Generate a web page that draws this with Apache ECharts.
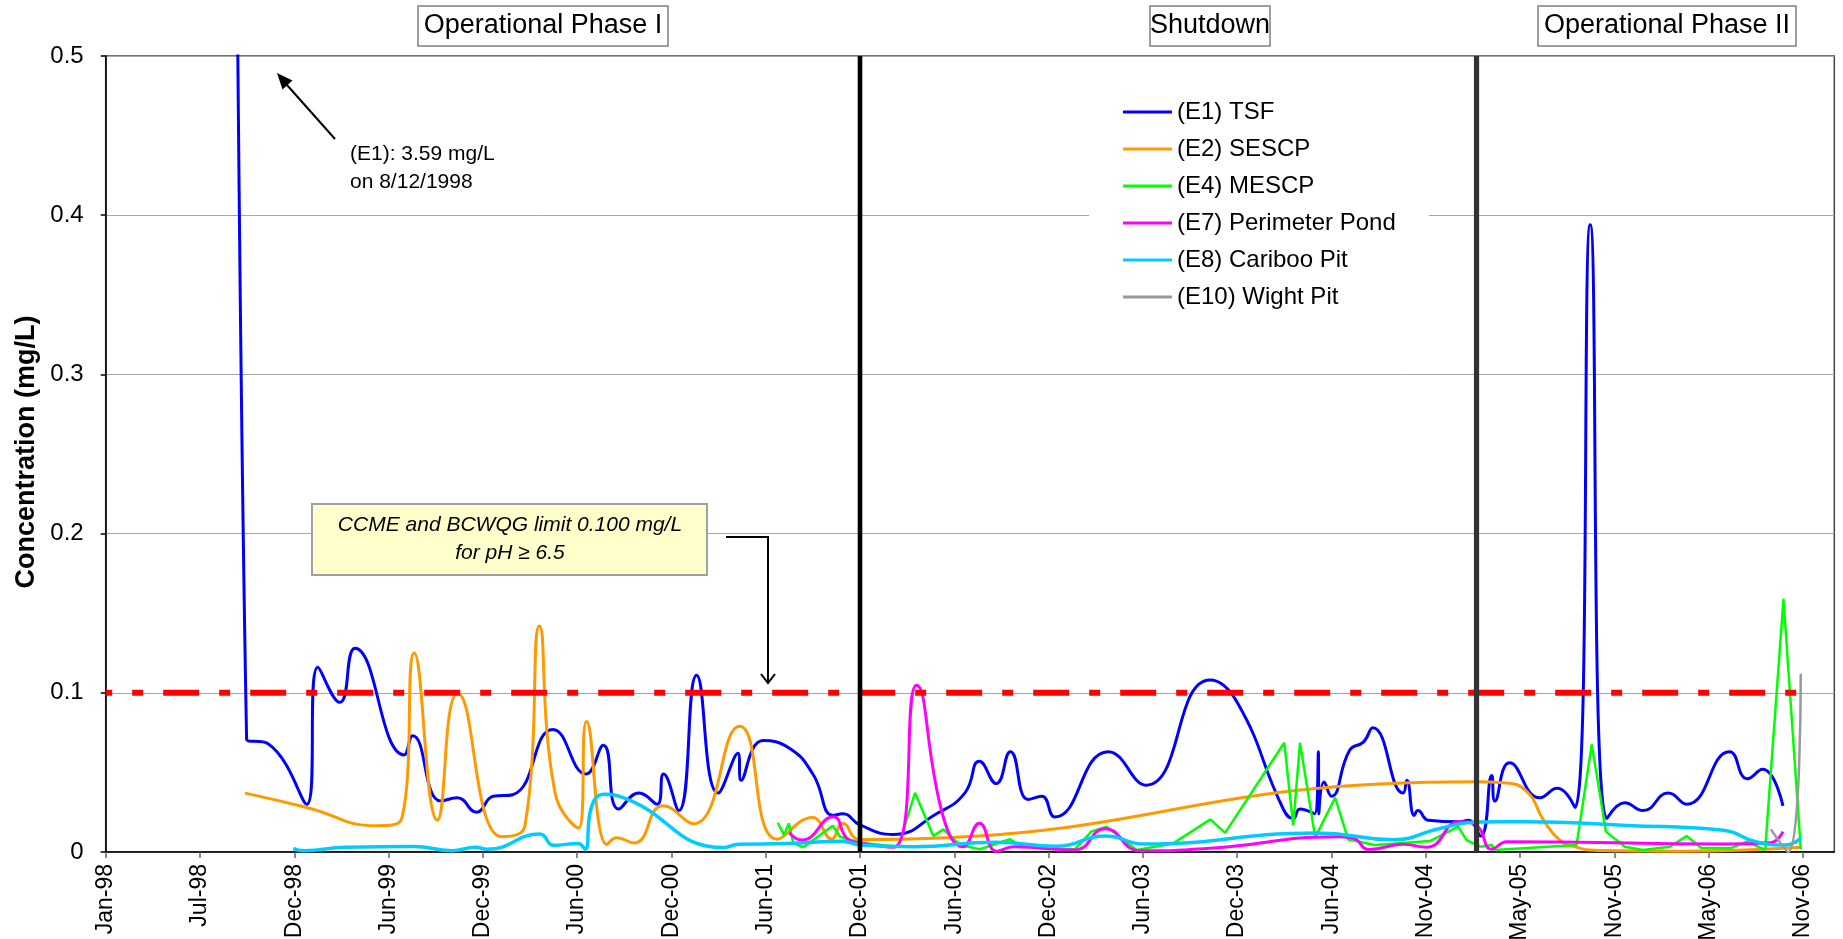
<!DOCTYPE html>
<html>
<head>
<meta charset="utf-8">
<title>Concentration (mg/L)</title>
<script src="https://cdn.jsdelivr.net/npm/echarts@6/dist/echarts.min.js"></script>
<style>
  html, body { margin: 0; padding: 0; background: #fff; }
  #chart { width: 1843px; height: 939px; }
</style>
</head>
<body>
<div id="chart"></div>
<script>
const FONT = "'Liberation Sans', Arial, sans-serif";

// date axis like the Excel one: a tick every 180 days from 4 Jan 1998
const axisStart = "1998-01-04";
const tickStep = 180;
const axisEndDays = 3300;
const xTickLabels = ["Jan-98", "Jul-98", "Dec-98", "Jun-99", "Dec-99", "Jun-00", "Dec-00", "Jun-01", "Dec-01",
  "Jun-02", "Dec-02", "Jun-03", "Dec-03", "Jun-04", "Nov-04", "May-05", "Nov-05", "May-06", "Nov-06"];

const seriesNames = ["(E1) TSF", "(E2) SESCP", "(E4) MESCP", "(E7) Perimeter Pond", "(E8) Cariboo Pit", "(E10) Wight Pit"];
const seriesColors = ["#0000ff", "#ff9900", "#00ff00", "#ff00ff", "#00ccff", "#999999"];

const tsf = [
  ["1998-08-12", 3.59], ["1998-09-30", 0.071], ["1998-11-10", 0.068], ["1999-01-23", 0.030], ["1999-02-13", 0.116],
  ["1999-03-27", 0.094], ["1999-04-25", 0.128], ["1999-07-28", 0.061], ["1999-08-13", 0.073], ["1999-10-06", 0.032],
  ["1999-11-06", 0.034], ["1999-12-13", 0.025], ["2000-01-14", 0.035], ["2000-02-20", 0.036], ["2000-05-07", 0.077],
  ["2000-07-09", 0.049], ["2000-08-11", 0.067], ["2000-09-09", 0.027], ["2000-10-18", 0.037], ["2000-11-22", 0.030],
  ["2000-12-04", 0.049], ["2001-01-02", 0.026], ["2001-02-05", 0.111], ["2001-03-18", 0.037], ["2001-04-25", 0.062],
  ["2001-05-01", 0.045], ["2001-06-12", 0.070], ["2001-08-02", 0.065], ["2001-09-15", 0.049], ["2001-10-24", 0.023],
  ["2001-11-11", 0.024], ["2001-12-14", 0.017], ["2002-02-15", 0.011], ["2002-05-09", 0.024], ["2002-07-02", 0.037],
  ["2002-07-30", 0.057], ["2002-08-31", 0.043], ["2002-09-27", 0.063], ["2002-10-31", 0.033], ["2002-11-26", 0.035],
  ["2002-12-21", 0.022], ["2003-04-02", 0.063], ["2003-06-13", 0.042], ["2003-10-13", 0.108], ["2003-12-04", 0.094],
  ["2004-03-01", 0.027], ["2004-03-20", 0.021], ["2004-04-02", 0.027], ["2004-04-30", 0.024], ["2004-05-07", 0.063],
  ["2004-05-08", 0.024], ["2004-05-18", 0.044], ["2004-06-01", 0.035], ["2004-07-06", 0.064], ["2004-08-01", 0.069],
  ["2004-08-19", 0.078], ["2004-10-16", 0.037], ["2004-10-23", 0.045], ["2004-11-06", 0.023], ["2004-11-13", 0.026],
  ["2004-12-03", 0.020], ["2005-02-01", 0.019], ["2005-02-17", 0.020], ["2005-03-13", 0.010], ["2005-04-03", 0.048],
  ["2005-04-09", 0.032], ["2005-05-07", 0.056], ["2005-07-04", 0.034], ["2005-08-06", 0.040], ["2005-09-09", 0.028],
  ["2005-10-08", 0.394], ["2005-11-09", 0.021], ["2005-12-13", 0.031], ["2006-01-17", 0.026], ["2006-03-06", 0.037],
  ["2006-04-10", 0.030], ["2006-07-01", 0.063], ["2006-08-04", 0.046], ["2006-09-02", 0.052], ["2006-10-11", 0.029]
];

const sescp = [
  ["1998-09-27", 0.037], ["1999-01-23", 0.028], ["1999-06-05", 0.0165], ["1999-07-23", 0.021], ["1999-08-16", 0.125],
  ["1999-09-29", 0.020], ["1999-11-07", 0.0996], ["2000-01-30", 0.0096], ["2000-03-14", 0.016], ["2000-04-11", 0.142],
  ["2000-05-11", 0.037], ["2000-06-25", 0.015], ["2000-07-10", 0.082], ["2000-08-18", 0.0047], ["2000-09-05", 0.009],
  ["2000-10-09", 0.0057], ["2000-12-03", 0.029], ["2001-01-30", 0.0177], ["2001-04-28", 0.079], ["2001-07-09", 0.008],
  ["2001-09-14", 0.0217], ["2001-10-21", 0.0083], ["2001-11-11", 0.018], ["2001-12-14", 0.0078], ["2005-03-06", 0.0442],
  ["2005-04-25", 0.0435], ["2005-06-09", 0.038], ["2005-07-11", 0.020], ["2005-08-11", 0.0075], ["2005-09-12", 0.003],
  ["2005-10-24", 0.001], ["2006-03-23", 0.0005], ["2006-11-13", 0.003]
];

const mescp = [
  ["2001-07-10", 0.0184], ["2001-07-22", 0.0106], ["2001-07-31", 0.018], ["2001-08-09", 0.0054], ["2001-08-28", 0.003],
  ["2001-10-23", 0.0165], ["2001-11-06", 0.0096], ["2001-12-14", 0.0058], ["2002-02-25", 0.0033], ["2002-03-29", 0.0372],
  ["2002-05-03", 0.010], ["2002-05-22", 0.0142], ["2002-06-23", 0.0044], ["2002-07-31", 0.0017], ["2002-09-26", 0.008],
  ["2002-10-15", 0.0044], ["2002-12-05", 0.0017], ["2003-01-28", 0.0017], ["2003-03-01", 0.0129], ["2003-03-30", 0.0159],
  ["2003-05-26", 0.0013], ["2003-08-04", 0.0054], ["2003-10-14", 0.0205], ["2003-11-11", 0.012], ["2004-03-03", 0.0686],
  ["2004-03-20", 0.0168], ["2004-04-02", 0.0686], ["2004-05-01", 0.0092], ["2004-06-08", 0.0341], ["2004-07-03", 0.0079],
  ["2004-08-23", 0.0044], ["2004-12-06", 0.0069], ["2005-01-29", 0.0159], ["2005-02-14", 0.0075], ["2005-03-12", 0.0033],
  ["2005-04-03", 0.0044], ["2005-04-09", 0.0013], ["2005-09-12", 0.0044], ["2005-10-11", 0.0676], ["2005-11-07", 0.0128],
  ["2005-12-13", 0.0033], ["2006-01-17", 0.0013], ["2006-03-09", 0.0033], ["2006-04-10", 0.010], ["2006-05-09", 0.0023],
  ["2006-07-02", 0.0023], ["2006-08-03", 0.0065], ["2006-09-07", 0.0013], ["2006-10-12", 0.159], ["2006-11-14", 0.0017]
];

const perimeterPond = [
  ["2001-08-01", 0.0121], ["2001-08-25", 0.0075], ["2001-10-24", 0.0222], ["2001-11-19", 0.0086], ["2001-12-14", 0.0058],
  ["2002-02-16", 0.003], ["2002-04-01", 0.1048], ["2002-05-22", 0.022], ["2002-06-29", 0.0033], ["2002-07-30", 0.018],
  ["2002-09-01", 0.0004], ["2002-10-03", 0.0033], ["2003-01-28", 0.0013], ["2003-03-27", 0.0146], ["2003-06-02", 0.0008],
  ["2003-10-13", 0.0023], ["2004-06-18", 0.0096], ["2004-07-13", 0.0086], ["2004-08-12", 0.0015], ["2004-10-16", 0.0048],
  ["2004-11-30", 0.003], ["2005-02-01", 0.019], ["2005-03-05", 0.0167], ["2005-04-03", 0.0017], ["2005-05-02", 0.0065],
  ["2006-06-26", 0.005], ["2006-09-17", 0.0058], ["2006-10-11", 0.0128]
];

const caribooPit = [
  ["1998-12-28", 0.0023], ["1999-01-17", 0.0008], ["1999-04-08", 0.003], ["1999-08-15", 0.0035], ["1999-10-27", 0.0008],
  ["1999-12-11", 0.003], ["2000-01-02", 0.0017], ["2000-04-12", 0.0113], ["2000-05-08", 0.0042], ["2000-06-24", 0.0054],
  ["2000-07-07", 0.0018], ["2000-07-20", 0.029], ["2000-08-14", 0.0362], ["2000-09-15", 0.0345], ["2001-03-30", 0.0028],
  ["2001-04-26", 0.0049], ["2001-07-27", 0.0053], ["2001-11-09", 0.0068], ["2001-12-14", 0.0044], ["2002-03-26", 0.0033],
  ["2002-08-31", 0.0062], ["2002-12-24", 0.0036], ["2003-03-27", 0.0100], ["2003-06-11", 0.005], ["2004-05-04", 0.012],
  ["2004-09-27", 0.0077], ["2004-12-25", 0.0148], ["2005-03-12", 0.0189], ["2005-06-08", 0.019], ["2005-12-17", 0.0167],
  ["2006-06-19", 0.0136], ["2006-08-22", 0.0063], ["2006-10-15", 0.0044], ["2006-11-14", 0.0086]
];

const wightPit = [["2006-09-18", 0.0142], ["2006-10-21", 0.0], ["2006-11-14", 0.112]];

const limitValue = 0.1;
const limitRange = ["1998-01-04", "2006-11-18"];
const phaseDates = ["2001-12-14", "2005-03-05"];
const phaseLabels = ["Operational Phase I", "Shutdown", "Operational Phase II"];

const DAY = 86400000;
const t0 = (s => { const [y, m, d] = s.split("-").map(Number); return Date.UTC(y, m - 1, d); })(axisStart);
function days(s) {
  const [y, m, d] = s.split("-").map(Number);
  return Math.round((Date.UTC(y, m - 1, d) - t0) / DAY);
}
const toXY = arr => arr.map(([d, v]) => [days(d), v]);

const seriesData = [tsf, sescp, mescp, perimeterPond, caribooPit, wightPit];
const smoothFlags = [true, true, false, true, true, true];
const widths = [3, 3, 2.5, 3, 3.5, 2.5];

const lines = seriesData.map((arr, i) => ({
  name: seriesNames[i],
  type: "line",
  data: toXY(arr),
  smooth: smoothFlags[i] ? 0.5 : false,
  symbol: "none",
  color: seriesColors[i],
  itemStyle: { color: seriesColors[i] },
  lineStyle: { color: seriesColors[i], width: widths[i] },
  z: 2 + i * 0.01
}));

lines.push({
  name: "limit",
  type: "line",
  data: limitRange.map(d => [days(d), limitValue]),
  symbol: "none",
  silent: true,
  lineStyle: { color: "#ff0000", width: 6, type: [36, 20, 11, 20], dashOffset: 29.5, cap: "butt" },
  z: 3
});

phaseDates.forEach((d, i) => {
  lines.push({
    name: "phase" + i,
    type: "line",
    data: [[days(d), 0], [days(d), 0.5]],
    symbol: "none",
    silent: true,
    lineStyle: { color: i === 0 ? "#000000" : "#333333", width: i === 0 ? 4.6 : 5.2 },
    z: 4
  });
});

const xTickDays = xTickLabels.map((_, i) => i * tickStep);

const phaseBoxes = [[418, 250], [1150, 120], [1538, 258]];

const graphic = [];
phaseBoxes.forEach(([x, w], i) => {
  graphic.push({
    type: "rect", z: 100,
    shape: { x: x, y: 6, width: w, height: 40 },
    style: { fill: "#ffffff", stroke: "#808080", lineWidth: 1.5 }
  });
  graphic.push({
    type: "text", z: 101,
    style: { x: x + w / 2, y: 26, text: phaseLabels[i], font: "27px " + FONT, fill: "#000",
      textAlign: "center", textVerticalAlign: "middle" }
  });
});

// limit note
graphic.push({
  type: "rect", z: 100,
  shape: { x: 312, y: 504, width: 395, height: 71 },
  style: { fill: "#ffffcc", stroke: "#a0a0a0", lineWidth: 2 }
});
graphic.push({
  type: "text", z: 101,
  style: { x: 510, y: 525, text: "CCME and BCWQG limit 0.100 mg/L", font: "italic 21px " + FONT, fill: "#000",
    textAlign: "center", textVerticalAlign: "middle" }
});
graphic.push({
  type: "text", z: 101,
  style: { x: 510, y: 553, text: "for pH \u2265 6.5", font: "italic 21px " + FONT, fill: "#000",
    textAlign: "center", textVerticalAlign: "middle" }
});
graphic.push({
  type: "polyline", z: 101,
  shape: { points: [[726, 537], [768, 537], [768, 682]] },
  style: { stroke: "#000", lineWidth: 2, fill: null }
});
graphic.push({
  type: "polyline", z: 101,
  shape: { points: [[761, 674], [768, 683], [775, 674]] },
  style: { stroke: "#000", lineWidth: 2, fill: null }
});

// off-scale note for E1
graphic.push({
  type: "line", z: 101,
  shape: { x1: 335, y1: 139, x2: 287, y2: 85 },
  style: { stroke: "#000", lineWidth: 2 }
});
graphic.push({
  type: "polygon", z: 101,
  shape: { points: [[277, 73], [292.5, 80.5], [282.5, 89.5]] },
  style: { fill: "#000" }
});
graphic.push({
  type: "text", z: 101,
  style: { x: 350, y: 154, text: "(E1): 3.59 mg/L", font: "21px " + FONT, fill: "#000",
    textAlign: "left", textVerticalAlign: "middle" }
});
graphic.push({
  type: "text", z: 101,
  style: { x: 350, y: 182, text: "on 8/12/1998", font: "21px " + FONT, fill: "#000",
    textAlign: "left", textVerticalAlign: "middle" }
});

// y axis title
graphic.push({
  type: "text", z: 101,
  x: 27, y: 452, rotation: Math.PI / 2,
  style: { x: 0, y: 0, text: "Concentration (mg/L)", font: "bold 27px " + FONT, fill: "#000",
    textAlign: "center", textVerticalAlign: "middle" }
});

const chart = echarts.init(document.getElementById("chart"), null, { renderer: "canvas" });
chart.setOption({
  animation: false,
  backgroundColor: "#ffffff",
  grid: { left: 105.7, right: 8.7, top: 56, bottom: 87, show: true, borderColor: "#444", borderWidth: 1.5,
    backgroundColor: "transparent", containLabel: false, outerBoundsMode: "none" },
  xAxis: {
    type: "value",
    min: 0,
    max: axisEndDays,
    interval: tickStep,
    splitLine: { show: false },
    axisLine: { lineStyle: { color: "#000", width: 1.5 } },
    axisTick: { length: 6, lineStyle: { color: "#666", width: 1.5 }, customValues: xTickDays },
    axisLabel: {
      rotate: 90, margin: 12, fontSize: 23, fontFamily: FONT, color: "#000",
      customValues: xTickDays,
      formatter: v => (v % tickStep === 0 && xTickLabels[v / tickStep]) || ""
    }
  },
  yAxis: {
    type: "value",
    min: 0,
    max: 0.5,
    interval: 0.1,
    splitLine: { lineStyle: { color: "#a6a6a6", width: 1 } },
    axisLine: { show: true, lineStyle: { color: "#000", width: 1.5 } },
    axisTick: { show: true, length: 5, lineStyle: { color: "#000", width: 1.5 } },
    axisLabel: { margin: 22, fontSize: 24, fontFamily: FONT, color: "#000",
      formatter: v => String(+v.toFixed(1)) }
  },
  legend: {
    data: seriesNames.map(n => ({ name: n, icon: "rect" })),
    orient: "vertical",
    left: 1089,
    top: 86,
    padding: [14, 33, 14, 34],
    itemWidth: 49,
    itemHeight: 3,
    itemGap: 13,
    backgroundColor: "#ffffff",
    selectedMode: false,
    textStyle: { fontSize: 24, fontFamily: FONT, color: "#000", lineHeight: 24 }
  },
  graphic: graphic,
  series: lines
});
</script>
</body>
</html>
